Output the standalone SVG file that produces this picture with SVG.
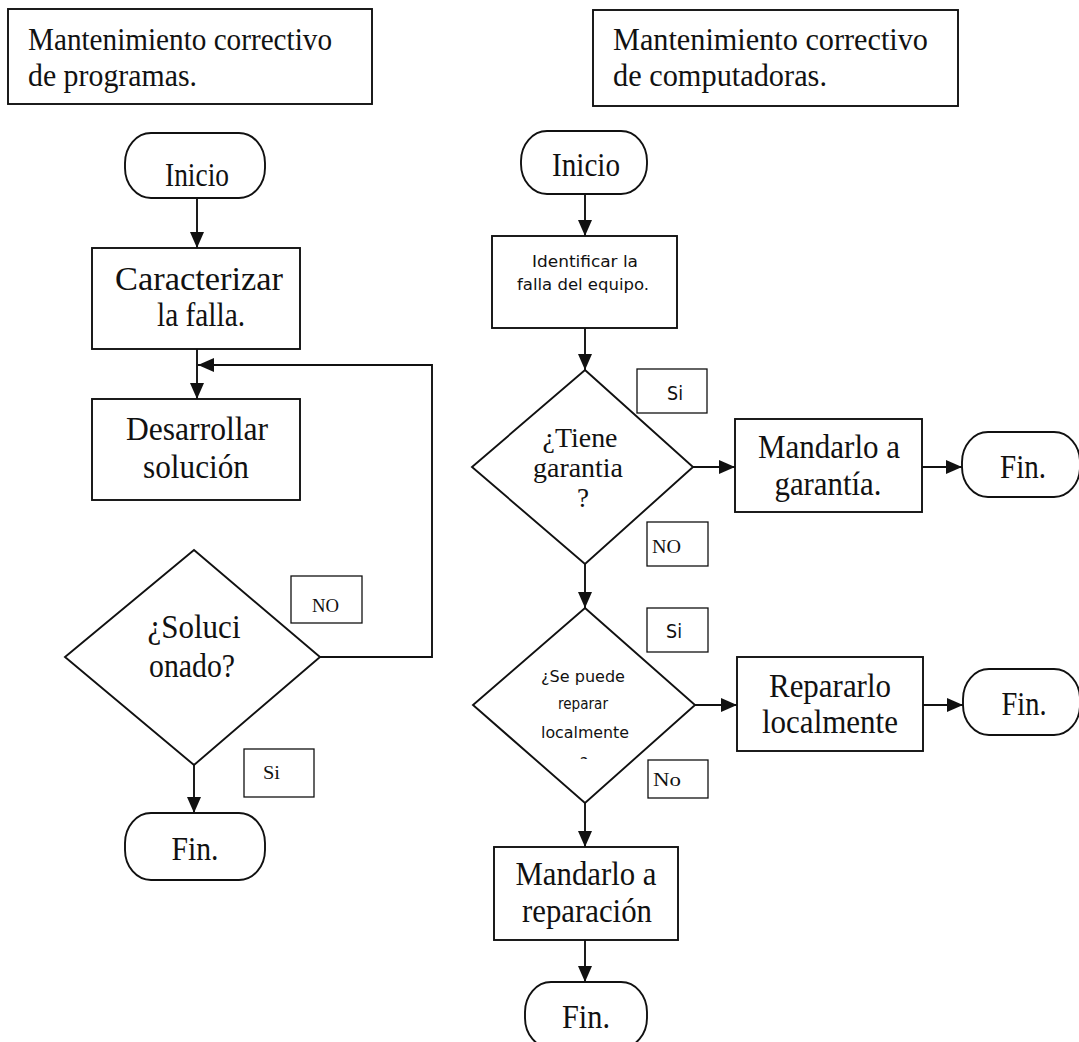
<svg xmlns="http://www.w3.org/2000/svg" width="1079" height="1042" viewBox="0 0 1079 1042">
  <style>
    .shape { fill: #fff; stroke: #111; stroke-width: 1.9; }
    .tag { fill: #fff; stroke: #111; stroke-width: 1.3; }
    .serif { font-family: "Liberation Serif", "Times New Roman", serif; fill: #111; }
    .sans { font-family: "DejaVu Sans", "Liberation Sans", sans-serif; fill: #111; }
    .title { font-size: 31px; }
    .big { font-size: 34px; }
    .mid { font-size: 27px; }
    .small { font-size: 16px; }
    .lab { font-size: 19px; }
    .conn { fill: none; stroke: #111; stroke-width: 1.9; }
  </style>
  <defs>
    <marker id="arrow" markerUnits="userSpaceOnUse" viewBox="0 0 16 14" refX="16" refY="7" markerWidth="16" markerHeight="14" orient="auto">
      <path d="M0,0 L16,7 L0,14 Z" fill="#111"/>
    </marker>
    <clipPath id="cut-q">
      <rect x="560" y="740" width="50" height="19"/>
    </clipPath>
  </defs>

  <!-- Connectors -->
  <g id="connectors">
    <path class="conn" d="M197,198 V248" marker-end="url(#arrow)"/>
    <path class="conn" d="M197,349 V399" marker-end="url(#arrow)"/>
    <path class="conn" d="M320,657 H432 V365 H198" marker-end="url(#arrow)"/>
    <path class="conn" d="M194,765 V813" marker-end="url(#arrow)"/>

    <path class="conn" d="M585,194 V236" marker-end="url(#arrow)"/>
    <path class="conn" d="M585,328 V370" marker-end="url(#arrow)"/>
    <path class="conn" d="M693,467 H735" marker-end="url(#arrow)"/>
    <path class="conn" d="M922,467 H962" marker-end="url(#arrow)"/>
    <path class="conn" d="M585,564 V608" marker-end="url(#arrow)"/>
    <path class="conn" d="M695,705 H737" marker-end="url(#arrow)"/>
    <path class="conn" d="M923,705 H963" marker-end="url(#arrow)"/>
    <path class="conn" d="M585,803 V847" marker-end="url(#arrow)"/>
    <path class="conn" d="M585,940 V982" marker-end="url(#arrow)"/>
  </g>

  <!-- Titles -->
  <g id="title-programas">
    <rect class="shape" x="8" y="9" width="364" height="95"/>
    <text class="serif title" x="28" y="50" textLength="304" lengthAdjust="spacingAndGlyphs">Mantenimiento correctivo</text>
    <text class="serif title" x="28" y="86" textLength="169" lengthAdjust="spacingAndGlyphs">de programas.</text>
  </g>
  <g id="title-computadoras">
    <rect class="shape" x="593" y="10" width="365" height="96"/>
    <text class="serif title" x="613" y="50" textLength="315" lengthAdjust="spacingAndGlyphs">Mantenimiento correctivo</text>
    <text class="serif title" x="613" y="86" textLength="214" lengthAdjust="spacingAndGlyphs">de computadoras.</text>
  </g>

  <!-- Program maintenance flow -->
  <g id="p-inicio">
    <rect class="shape" x="125" y="133" width="140" height="65" rx="26" ry="30"/>
    <text class="serif big" x="197" y="186" text-anchor="middle" textLength="64" lengthAdjust="spacingAndGlyphs">Inicio</text>
  </g>
  <g id="p-caracterizar">
    <rect class="shape" x="92" y="248" width="208" height="101"/>
    <text class="serif big" x="199" y="290" text-anchor="middle" textLength="168" lengthAdjust="spacingAndGlyphs">Caracterizar</text>
    <text class="serif big" x="201" y="326" text-anchor="middle" textLength="88" lengthAdjust="spacingAndGlyphs">la falla.</text>
  </g>
  <g id="p-desarrollar">
    <rect class="shape" x="92" y="399" width="208" height="101"/>
    <text class="serif big" x="197" y="440" text-anchor="middle" textLength="142" lengthAdjust="spacingAndGlyphs">Desarrollar</text>
    <text class="serif big" x="196" y="478" text-anchor="middle" textLength="106" lengthAdjust="spacingAndGlyphs">solución</text>
  </g>
  <g id="p-solucionado">
    <polygon class="shape" points="194,550 320,657 194,765 65,657"/>
    <text class="serif big" x="194" y="638" text-anchor="middle" textLength="93" lengthAdjust="spacingAndGlyphs">¿Soluci</text>
    <text class="serif big" x="192" y="677" text-anchor="middle" textLength="86" lengthAdjust="spacingAndGlyphs">onado?</text>
  </g>
  <g id="p-no">
    <rect class="tag" x="291" y="576" width="71" height="47"/>
    <text class="serif lab" x="312" y="612" textLength="27" lengthAdjust="spacingAndGlyphs">NO</text>
  </g>
  <g id="p-si">
    <rect class="tag" x="244" y="749" width="70" height="48"/>
    <text class="serif lab" x="263" y="779" textLength="17" lengthAdjust="spacingAndGlyphs">Si</text>
  </g>
  <g id="p-fin">
    <rect class="shape" x="125" y="813" width="140" height="67" rx="26" ry="30"/>
    <text class="serif big" x="195" y="860" text-anchor="middle" textLength="47" lengthAdjust="spacingAndGlyphs">Fin.</text>
  </g>

  <!-- Computer maintenance flow -->
  <g id="c-inicio">
    <rect class="shape" x="521" y="131" width="126" height="63" rx="26" ry="30"/>
    <text class="serif big" x="586" y="176" text-anchor="middle" textLength="68" lengthAdjust="spacingAndGlyphs">Inicio</text>
  </g>
  <g id="c-identificar">
    <rect class="shape" x="492" y="236" width="185" height="92"/>
    <text class="sans small" x="585" y="267" text-anchor="middle" textLength="106" lengthAdjust="spacingAndGlyphs">Identificar la</text>
    <text class="sans small" x="583" y="290" text-anchor="middle" textLength="132" lengthAdjust="spacingAndGlyphs">falla del equipo.</text>
  </g>
  <g id="c-garantia-q">
    <polygon class="shape" points="585,370 693,467 585,564 472,467"/>
    <text class="serif mid" x="580" y="447" text-anchor="middle" textLength="75" lengthAdjust="spacingAndGlyphs">¿Tiene</text>
    <text class="serif mid" x="578" y="477" text-anchor="middle" textLength="90" lengthAdjust="spacingAndGlyphs">garantia</text>
    <text class="serif mid" x="583" y="507" text-anchor="middle">?</text>
  </g>
  <g id="c-si-1">
    <rect class="tag" x="637" y="369" width="70" height="44"/>
    <text class="sans lab" x="667" y="400" textLength="16" lengthAdjust="spacingAndGlyphs">Si</text>
  </g>
  <g id="c-no-1">
    <rect class="tag" x="647" y="522" width="61" height="44"/>
    <text class="serif lab" x="652" y="553" textLength="29" lengthAdjust="spacingAndGlyphs">NO</text>
  </g>
  <g id="c-garantia">
    <rect class="shape" x="735" y="419" width="187" height="93"/>
    <text class="serif big" x="829" y="458" text-anchor="middle" textLength="142" lengthAdjust="spacingAndGlyphs">Mandarlo a</text>
    <text class="serif big" x="828" y="495" text-anchor="middle" textLength="107" lengthAdjust="spacingAndGlyphs">garantía.</text>
  </g>
  <g id="c-fin-1">
    <rect class="shape" x="962" y="432" width="118" height="65" rx="26" ry="30"/>
    <text class="serif big" x="1023" y="478" text-anchor="middle" textLength="46" lengthAdjust="spacingAndGlyphs">Fin.</text>
  </g>
  <g id="c-local-q">
    <polygon class="shape" points="585,608 695,705 585,803 473,705"/>
    <text class="sans small" x="583" y="682" text-anchor="middle" textLength="84" lengthAdjust="spacingAndGlyphs">¿Se puede</text>
    <text class="sans small" x="583" y="709" text-anchor="middle" textLength="50" lengthAdjust="spacingAndGlyphs">reparar</text>
    <text class="sans small" x="585" y="738" text-anchor="middle" textLength="88" lengthAdjust="spacingAndGlyphs">localmente</text>
    <text class="sans small" x="584" y="769" text-anchor="middle" clip-path="url(#cut-q)">?</text>
  </g>
  <g id="c-si-2">
    <rect class="tag" x="647" y="608" width="61" height="44"/>
    <text class="sans lab" x="666" y="638" textLength="16" lengthAdjust="spacingAndGlyphs">Si</text>
  </g>
  <g id="c-no-2">
    <rect class="tag" x="648" y="760" width="60" height="38"/>
    <text class="serif lab" x="653" y="786" textLength="28" lengthAdjust="spacingAndGlyphs">No</text>
  </g>
  <g id="c-local">
    <rect class="shape" x="737" y="657" width="186" height="94"/>
    <text class="serif big" x="830" y="697" text-anchor="middle" textLength="122" lengthAdjust="spacingAndGlyphs">Repararlo</text>
    <text class="serif big" x="830" y="733" text-anchor="middle" textLength="136" lengthAdjust="spacingAndGlyphs">localmente</text>
  </g>
  <g id="c-fin-2">
    <rect class="shape" x="963" y="669" width="117" height="66" rx="26" ry="30"/>
    <text class="serif big" x="1024" y="715" text-anchor="middle" textLength="45" lengthAdjust="spacingAndGlyphs">Fin.</text>
  </g>
  <g id="c-reparacion">
    <rect class="shape" x="494" y="847" width="184" height="93"/>
    <text class="serif big" x="586" y="885" text-anchor="middle" textLength="141" lengthAdjust="spacingAndGlyphs">Mandarlo a</text>
    <text class="serif big" x="587" y="922" text-anchor="middle" textLength="130" lengthAdjust="spacingAndGlyphs">reparación</text>
  </g>
  <g id="c-fin-3">
    <rect class="shape" x="525" y="982" width="122" height="66" rx="26" ry="30"/>
    <text class="serif big" x="586" y="1028" text-anchor="middle" textLength="48" lengthAdjust="spacingAndGlyphs">Fin.</text>
  </g>
</svg>
